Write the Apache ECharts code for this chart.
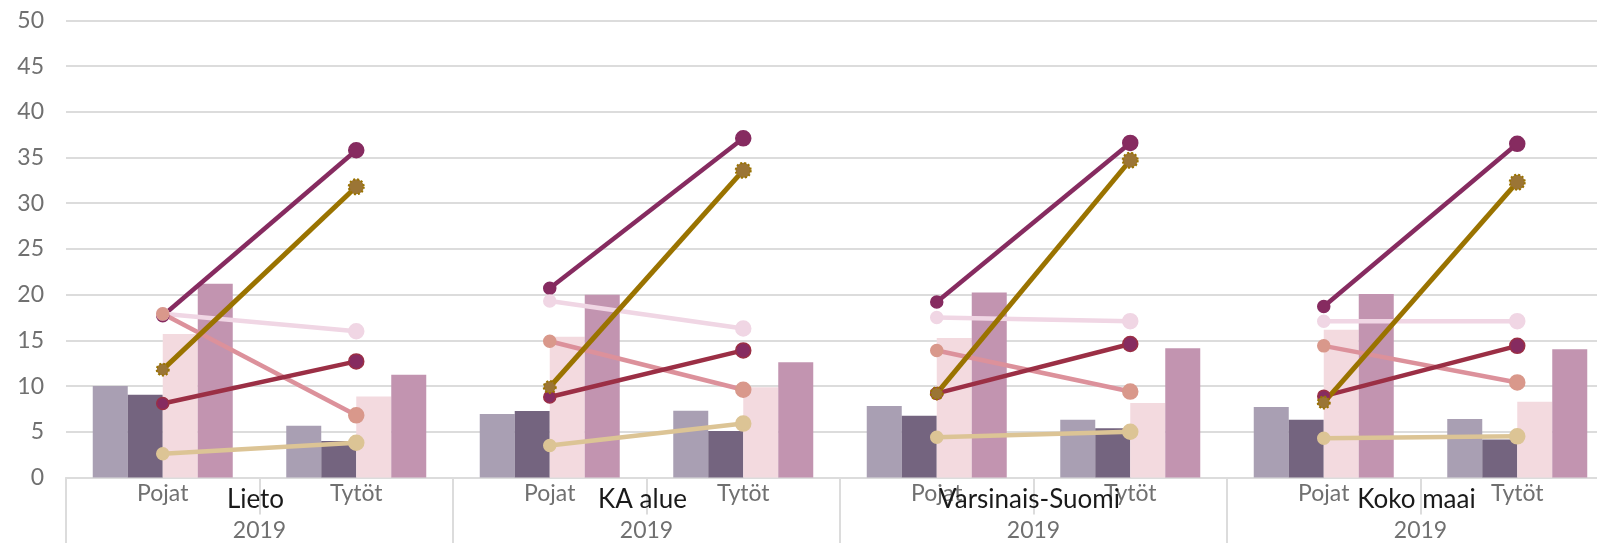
<!DOCTYPE html>
<html>
<head>
<meta charset="utf-8">
<script src="https://cdn.jsdelivr.net/npm/echarts@6/dist/echarts.min.js"></script>
<style>
  html, body { margin: 0; padding: 0; background: #fff; }
  #chart { width: 1597px; height: 543px; }
</style>
</head>
<body>
<div id="chart"></div>
<script>
// categories
const subCategories = ['Pojat', 'Tytöt', 'Pojat', 'Tytöt', 'Pojat', 'Tytöt', 'Pojat', 'Tytöt'];
const groups = ['Lieto', 'KA alue', 'Varsinais-Suomi', 'Koko maai'];
const years = ['2019', '2019', '2019', '2019'];

// bar values (Pojat, Tytöt per group)
const bar1 = [10.0, 5.65, 6.94, 7.3, 7.82, 6.32, 7.71, 6.39];
const bar2 = [9.05, 4.0, 7.27, 5.1, 6.76, 5.4, 6.32, 4.17];
const bar3 = [15.7, 8.87, 15.4, 9.87, 15.27, 8.15, 16.15, 8.29];
const bar4 = [21.2, 11.24, 19.99, 12.6, 20.24, 14.14, 20.07, 14.03];

// line values
const purple = [17.7, 35.8, 20.7, 37.1, 19.2, 36.6, 18.7, 36.5];
const lightPink = [17.9, 16.0, 19.3, 16.3, 17.5, 17.1, 17.1, 17.1];
const salmon = [17.9, 6.8, 14.9, 9.6, 13.9, 9.4, 14.4, 10.4];
const darkRed = [8.1, 12.7, 8.8, 13.9, 9.2, 14.6, 8.9, 14.4];
const tan = [2.6, 3.8, 3.5, 5.9, 4.4, 5.0, 4.3, 4.5];
const gold = [11.8, 31.8, 9.9, 33.6, 9.2, 34.7, 8.2, 32.3];

const font = 'Lato';
const gridColor = '#dcdcdc';
const labelGray = '#707070';

const bars = [
    { name: 'Sarja 1', data: bar1, color: '#a99fb3' },
    { name: 'Sarja 2', data: bar2, color: '#74647f' },
    { name: 'Sarja 3', data: bar3, color: '#f3dadf' },
    { name: 'Sarja 4', data: bar4, color: '#c294b0' }
];

const lines = [
    { name: 'Linja 1', data: purple, color: '#862b60', marker: '#862b60', border: '#862b60' },
    { name: 'Linja 2', data: lightPink, color: '#f0d6e4', marker: '#f0d6e4', border: '#f0d6e4' },
    { name: 'Linja 3', data: salmon, color: '#dc919b', marker: '#d9988b', border: '#d9988b' },
    { name: 'Linja 4', data: darkRed, color: '#9b2f45', marker: '#862b60', border: '#9b2f45' },
    { name: 'Linja 5', data: tan, color: '#dcc495', marker: '#dcc495', border: '#dcc495' },
    { name: 'Linja 6', data: gold, color: '#9a7300', marker: '#9b7535', border: '#9a7300', dotted: true }
];

const series = [];

bars.forEach(b => {
    series.push({
        name: b.name,
        type: 'bar',
        xAxisIndex: 0,
        barWidth: 35,
        barGap: '0%',
        data: b.data,
        itemStyle: { color: b.color },
        emphasis: { disabled: true }
    });
});

// each line only joins Pojat -> Tytöt inside one group
lines.forEach(l => {
    groups.forEach((g, gi) => {
        const data = subCategories.map((c, i) =>
            (i === gi * 2 || i === gi * 2 + 1) ? l.data[i] : null);
        series.push({
            name: l.name,
            type: 'line',
            xAxisIndex: 0,
            data: data,
            connectNulls: false,
            symbol: 'circle',
            symbolSize: (v, p) => p.dataIndex % 2 ? 15 : 12,
            lineStyle: { color: l.color, width: l.dotted ? 5 : 4.5 },
            itemStyle: {
                color: l.marker,
                borderColor: l.border,
                borderWidth: l.dotted ? 2 : 1.5,
                borderType: l.dotted ? 'dotted' : 'solid'
            },
            emphasis: { disabled: true },
            z: 3
        });
    });
});

const chart = echarts.init(document.getElementById('chart'));

chart.setOption({
    animation: false,
    // plot runs past the right edge like in the original
    grid: { left: 66, width: 1548, top: 20.4, bottom: 65.5, outerBoundsMode: 'none', containLabel: false },
    xAxis: [
        {
            type: 'category',
            data: subCategories,
            position: 'bottom',
            axisLine: { show: true, lineStyle: { color: gridColor, width: 2 } },
            axisTick: { show: true, length: 37, interval: 0, lineStyle: { color: gridColor, width: 2 } },
            axisLabel: { interval: 0, margin: 5, fontFamily: font, fontSize: 23, color: labelGray }
        },
        {
            type: 'category',
            data: years,
            position: 'bottom',
            axisLine: { show: false },
            axisTick: { show: true, length: 70, interval: 0, lineStyle: { color: gridColor, width: 2 } },
            axisLabel: { interval: 0, margin: 42, fontFamily: font, fontSize: 23, color: labelGray }
        },
        {
            type: 'category',
            data: groups,
            position: 'bottom',
            axisLine: { show: false },
            axisTick: { show: false },
            axisLabel: {
                interval: 0, margin: 9, fontFamily: font, fontSize: 26, color: '#1a1a1a',
                padding: [0, 8, 0, 0]
            }
        }
    ],
    yAxis: {
        type: 'value',
        min: 0,
        max: 50,
        interval: 5,
        axisLine: { show: false },
        axisTick: { show: false },
        axisLabel: { margin: 22, fontFamily: font, fontSize: 23, color: labelGray },
        splitLine: { lineStyle: { color: gridColor, width: 2 } }
    },
    series: series
});
</script>
</body>
</html>
